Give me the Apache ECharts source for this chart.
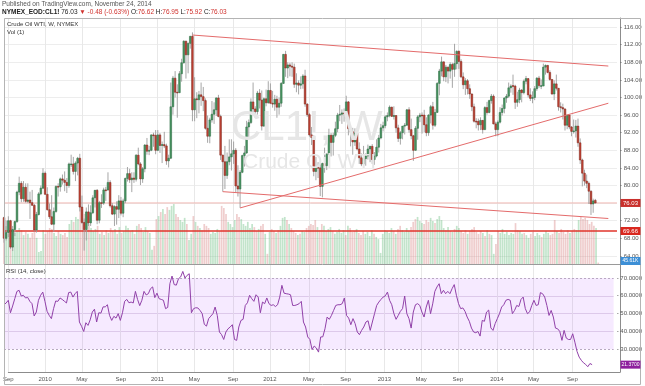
<!DOCTYPE html>
<html><head><meta charset="utf-8">
<script src="https://cdn.jsdelivr.net/npm/echarts@6/dist/echarts.min.js"></script>
<style>html,body{margin:0;padding:0;background:#fff;}#c{width:645px;height:386px;}</style>
</head><body><div id="c"></div>
<script>
// ---------- data (weekly, first week starts 2009-08-31) ----------
const startWeek = '2009-08-31';
const padWeeks = 10;
const opens = [
72.7,68.0,69.3,72.0,66.0,70.0,71.8,78.5,80.5,77.0,
79.6,76.4,76.7,76.1,75.5,69.9,73.4,78.1,79.4,82.8,
78.0,74.5,72.9,71.2,74.1,79.8,79.7,81.5,81.2,80.7,
80.0,84.8,84.9,83.2,85.1,86.2,75.1,71.6,70.0,74.0,
71.5,73.8,77.2,78.9,72.1,76.1,76.0,79.0,79.0,80.7,
75.4,73.5,75.2,74.6,76.5,73.7,76.5,81.6,82.7,81.3,
81.7,81.4,86.9,84.9,81.5,83.8,89.2,87.8,88.0,91.5,
91.4,88.0,91.5,89.1,89.3,89.0,85.6,86.2,97.9,104.4,
101.2,101.1,105.4,107.9,112.8,109.7,112.3,113.9,97.2,99.7,
99.5,100.6,100.2,99.3,93.0,91.2,94.9,96.2,97.2,99.9,
95.7,86.9,85.4,82.3,85.4,86.5,87.2,88.0,79.9,79.2,
83.0,86.8,87.4,93.3,94.3,99.0,97.4,96.8,101.0,99.4,
93.5,99.7,98.8,101.6,98.7,98.5,99.6,97.8,98.7,103.2,
109.8,106.7,107.4,107.1,106.9,103.0,103.3,102.8,103.1,104.9,
98.5,96.1,91.5,90.9,83.2,84.1,84.0,79.8,85.0,84.5,
87.1,91.4,89.8,91.4,92.9,96.0,96.2,96.5,96.4,99.0,
92.9,92.2,89.9,91.9,88.3,86.3,84.9,86.1,86.7,88.3,
88.9,85.9,86.7,88.7,90.8,93.1,93.6,95.6,95.9,97.8,
95.7,95.9,93.1,90.7,92.0,93.5,93.7,97.2,92.7,91.3,
88.0,93.0,95.6,96.0,96.0,93.8,92.0,96.0,97.9,93.7,
96.6,103.2,106.0,108.1,104.7,106.9,106.0,107.5,106.4,107.7,
110.5,108.2,104.7,102.9,103.8,102.0,100.8,97.9,94.6,94.6,
93.8,94.8,92.7,97.7,96.6,99.3,100.3,94.0,92.7,94.4,
96.6,97.5,99.9,100.3,102.2,102.7,102.6,98.9,99.5,101.7,
101.1,103.7,104.3,100.6,99.8,100.0,102.0,104.4,102.7,102.6,
106.9,107.3,105.7,104.1,100.8,103.1,102.1,97.9,97.7,97.4,
93.7,96.0,93.3,92.3,92.4,93.5,89.7,85.8,82.8,81.0,
80.5,78.7,75.8,76.62];
const highs = [
72.9,72.0,73.0,72.2,70.8,72.0,78.8,82.0,81.0,81.0,
80.5,80.5,78.6,79.0,75.8,74.0,78.5,80.0,83.9,83.2,
79.6,75.9,77.8,75.0,80.0,80.5,81.8,82.5,83.2,81.7,
85.2,87.0,86.5,85.5,86.5,87.2,77.7,72.5,75.0,75.7,
75.5,77.8,79.0,79.2,76.5,78.0,79.5,79.7,83.0,81.2,
76.0,75.5,76.4,77.8,77.4,77.0,81.8,84.2,83.8,83.0,
83.0,87.1,88.6,85.3,84.2,89.4,90.8,89.0,91.6,92.0,
92.6,92.6,91.9,90.0,92.2,89.5,87.0,103.4,104.9,106.0,
103.0,106.0,108.8,113.0,112.9,112.5,114.0,114.8,104.6,101.2,
101.5,103.4,102.4,99.8,95.9,95.4,99.2,98.9,100.0,100.6,
96.1,87.0,89.0,87.5,90.5,90.5,90.0,88.5,84.6,83.5,
87.0,89.0,94.7,95.0,99.8,103.4,98.0,101.5,101.9,101.6,
100.0,101.8,103.7,103.2,101.5,100.6,100.4,100.0,103.5,109.9,
110.6,108.0,107.9,108.0,107.7,105.5,103.9,104.8,105.3,106.3,
98.7,96.5,93.3,91.4,86.5,85.3,85.2,85.2,88.6,87.4,
92.9,91.9,92.0,94.5,96.5,98.3,97.3,97.5,100.4,99.2,
93.4,93.1,93.0,93.0,89.8,87.3,89.0,87.3,89.3,89.0,
89.4,87.6,90.5,91.5,94.0,94.5,96.0,96.6,98.2,97.9,
98.0,96.0,93.8,92.4,93.5,94.2,97.4,97.8,95.2,91.5,
93.5,96.0,96.5,96.6,97.2,95.5,96.2,98.3,99.0,97.4,
103.5,106.5,109.3,108.2,107.4,107.0,108.0,107.9,112.2,110.7,
110.7,108.7,105.7,104.4,104.2,103.0,100.9,98.6,95.3,95.2,
95.5,94.9,98.0,99.0,99.5,100.8,100.7,94.5,94.8,97.8,
98.4,100.0,100.8,103.4,103.0,105.2,102.9,101.3,102.2,101.9,
104.1,104.9,104.4,102.1,101.4,102.6,104.6,104.9,104.1,107.7,
107.5,107.4,106.2,104.2,103.9,105.2,102.1,98.9,98.6,97.5,
96.0,96.1,93.5,95.0,94.9,95.2,90.7,86.1,83.6,82.5,
80.9,78.9,77.0,76.95];
const lows = [
67.0,67.5,68.3,65.6,65.1,68.5,71.5,77.8,76.2,76.3,
76.1,76.0,72.4,75.4,69.5,69.3,73.2,77.8,79.2,77.9,
74.3,72.4,71.0,69.5,73.8,77.5,78.6,80.2,78.7,78.3,
79.5,84.2,82.5,81.0,82.3,74.1,71.3,65.2,67.5,70.8,
70.8,73.5,75.0,71.2,71.4,74.9,75.6,76.5,78.8,75.0,
73.3,70.8,71.1,72.6,73.2,72.8,76.0,80.9,80.6,78.5,
80.6,80.9,84.6,80.1,80.6,83.0,87.0,86.9,87.8,88.8,
87.1,87.8,87.4,85.1,88.5,84.7,84.1,86.0,96.1,100.0,
95.4,101.0,103.6,107.7,104.3,105.5,111.1,94.6,94.6,95.3,
96.4,98.1,96.9,92.7,89.7,89.6,94.3,94.0,95.8,95.5,
85.8,78.6,79.2,81.5,84.6,83.4,84.9,78.5,77.5,74.9,
82.8,84.3,87.2,90.6,94.0,96.6,95.3,96.1,97.5,92.5,
93.3,98.0,98.6,98.5,97.7,97.0,95.4,96.1,97.9,103.1,
104.7,104.4,104.8,104.7,102.2,101.2,100.7,101.9,102.0,97.9,
95.6,91.1,89.2,82.1,81.2,81.7,77.6,77.3,82.9,83.5,
87.0,86.6,86.8,91.0,92.1,94.6,94.0,94.5,95.2,91.4,
88.9,87.0,89.0,88.0,84.9,84.4,84.1,84.5,85.9,85.3,
84.9,84.7,86.4,87.5,90.5,92.3,93.0,94.6,95.5,95.6,
95.0,92.0,89.9,89.3,90.5,91.6,93.6,92.0,90.5,85.6,
87.9,90.4,94.4,91.8,92.1,91.2,91.3,94.1,92.7,93.3,
96.6,100.5,104.8,103.7,103.5,103.2,104.3,102.2,104.7,106.4,
106.5,104.4,101.9,100.6,100.7,99.7,96.9,94.3,93.0,92.5,
92.6,91.8,92.6,96.1,96.4,98.6,93.9,91.2,91.2,94.1,
95.9,96.4,98.8,99.9,101.1,100.6,97.4,97.9,98.7,98.9,
100.7,103.0,100.0,99.2,98.7,99.4,101.5,102.2,101.9,102.6,
105.2,105.5,103.8,100.6,99.4,101.6,97.0,96.6,95.0,92.5,
92.8,92.8,91.2,91.8,90.9,88.8,84.9,79.8,80.0,79.4,
75.8,73.3,73.8,75.92];
const closes = [
68.0,69.3,72.0,66.0,70.0,71.8,78.5,80.5,77.0,79.6,
76.4,76.7,76.1,75.5,69.9,73.4,78.1,79.4,82.8,78.0,
74.5,72.9,71.2,74.1,79.8,79.7,81.5,81.2,80.7,80.0,
84.9,84.9,83.2,85.1,86.2,75.1,71.6,70.0,74.0,71.5,
73.8,77.2,78.9,72.1,76.1,76.0,79.0,78.9,80.7,75.4,
73.5,75.2,74.6,76.5,73.7,76.5,81.6,82.7,81.3,81.7,
81.4,86.9,84.9,81.5,83.8,89.2,87.8,88.0,91.5,91.4,
88.0,91.5,89.1,89.3,89.0,85.6,86.2,97.9,104.4,101.2,
101.1,105.4,107.9,112.8,109.7,112.3,113.9,97.2,99.7,99.5,
100.6,100.2,99.3,93.0,91.2,94.9,96.2,97.2,99.9,95.7,
86.9,85.4,82.3,85.4,86.5,87.2,88.0,79.9,79.2,83.0,
86.8,87.4,93.3,94.3,99.0,97.4,96.8,101.0,99.4,93.5,
99.7,98.8,101.6,98.7,98.5,99.6,97.8,98.7,103.2,109.8,
106.7,107.4,107.1,106.9,103.0,103.3,102.8,103.1,104.9,98.5,
96.1,91.5,90.9,83.2,84.1,84.0,79.8,85.0,84.5,87.1,
91.4,89.8,91.4,92.9,96.0,96.2,96.5,96.4,99.0,92.9,
92.2,89.9,91.9,88.3,86.3,84.9,86.1,86.7,88.3,88.9,
85.9,86.7,88.7,90.8,93.1,93.6,95.6,95.9,97.8,95.7,
95.9,93.1,90.7,92.0,93.5,93.7,97.2,92.7,91.3,88.0,
93.0,95.6,96.0,95.9,93.8,92.0,96.0,97.9,93.7,96.6,
103.2,106.0,108.1,104.7,106.9,106.0,107.5,106.4,107.7,110.5,
108.2,104.7,102.9,103.8,102.0,100.8,97.9,94.6,94.5,93.8,
94.8,92.7,97.7,96.6,99.3,100.3,94.0,92.7,94.4,96.6,
97.5,99.9,100.3,102.2,102.6,102.6,98.9,99.5,101.7,101.1,
103.7,104.3,100.6,99.8,100.0,102.0,104.4,102.7,102.7,106.9,
107.3,105.7,104.1,100.8,103.1,102.1,97.9,97.7,97.4,93.7,
96.0,93.3,92.3,92.4,93.5,89.7,85.8,82.8,81.0,80.5,
78.7,75.8,76.5,76.03];
const volumes = [
1100,1230,980,1170,1070,1010,1070,1170,1100,940,
1040,980,850,1010,1070,850,390,420,1100,980,
1070,1170,1140,1010,910,1070,980,940,1010,880,
1300,1430,1370,1530,1460,1890,1790,1630,1560,1300,
1170,1070,1140,1240,980,1040,940,1100,1010,1170,
1070,1140,980,1200,1010,1070,1240,1170,1070,1100,
980,1240,1300,1170,1040,1200,1070,1010,460,590,
1460,1560,1690,1790,1630,1850,1760,1890,1950,1630,
1530,1430,1370,1500,1300,780,980,1560,1370,1240,
1170,1100,1300,1240,1170,980,1040,1010,1140,1070,
1890,1820,1630,1370,1300,1200,1430,1630,1530,1460,
1300,1240,1370,1170,1300,1200,1070,1140,1240,1300,
980,330,1040,1140,1070,1010,1100,1240,1500,1530,
1430,1300,1170,1070,1010,940,980,1070,1040,1170,
1240,1300,1270,1430,1200,1100,1300,1240,1070,1140,
1200,1070,980,1040,1140,1010,1100,940,1240,1170,
1040,1070,1140,1010,940,1070,980,1040,910,1100,
980,880,810,360,980,1100,1070,1010,1170,1070,
980,1140,1240,1100,1040,1170,1070,1200,1370,1460,
1530,1400,1330,1300,1430,1370,1500,1400,1330,1460,
1560,1430,1170,1100,1200,1070,1040,1140,1240,1170,
1070,1010,1100,980,1070,1140,1200,1040,980,1070,
1010,910,1100,980,940,330,650,1070,1010,1140,
980,1040,940,1010,980,1330,1100,1070,980,1010,
940,850,980,1040,910,1010,940,880,980,1070,
1010,940,980,1430,1070,1010,1140,1040,980,1100,
1010,1070,1140,1100,1430,1530,1460,1500,1430,1300,
1370,1240,1170,45.61];
const rsiValues = [
55.0,56.0,57.5,50.5,54.3,58.4,62.5,63.1,59.9,60.3,
58.8,59.1,56.9,55.6,48.7,50.9,57.5,60.3,62.1,56.9,
51.3,49.0,47.2,52.8,57.1,56.9,58.8,58.0,57.0,56.0,
61.8,62.1,59.3,61.2,62.5,45.3,42.9,40.0,44.9,43.4,
46.5,50.9,52.5,45.3,50.5,50.3,53.8,53.8,55.0,49.0,
46.2,48.5,47.5,50.0,46.2,50.5,56.9,58.0,56.1,56.5,
56.0,62.5,58.0,54.5,57.5,62.5,60.5,61.2,64.0,65.0,
59.0,61.5,58.4,58.0,57.5,52.8,53.5,66.8,71.1,66.3,
66.0,69.6,70.6,73.7,70.0,71.5,72.4,50.5,52.8,53.3,
53.2,51.8,50.0,44.0,43.0,47.2,48.6,50.0,53.7,49.0,
39.7,38.2,35.5,39.7,41.5,42.5,43.8,35.5,35.0,42.5,
46.2,46.8,54.6,56.1,60.3,58.4,56.9,60.6,59.3,50.5,
56.5,55.6,58.8,55.6,54.6,55.0,54.0,55.0,59.3,65.9,
61.5,61.2,61.0,60.6,54.6,54.6,55.0,55.6,56.9,45.3,
42.5,36.9,35.5,29.9,31.8,30.7,28.4,36.9,37.0,41.5,
48.1,46.8,49.0,51.8,54.6,55.0,55.0,55.6,58.8,49.0,
47.5,43.8,47.2,44.4,39.7,38.2,40.6,42.5,45.3,46.0,
40.6,45.3,50.0,54.6,56.5,58.0,59.3,60.0,62.1,57.5,
55.0,50.0,46.8,49.0,51.3,52.8,59.9,50.0,47.2,41.9,
50.9,55.0,55.6,54.6,50.9,48.1,53.7,57.5,50.0,55.5,
62.5,65.0,66.8,61.2,63.1,61.2,62.5,61.2,64.0,66.3,
60.3,55.6,52.8,53.2,51.3,48.1,45.7,41.9,39.7,39.3,
40.0,37.4,46.2,45.7,50.9,52.0,42.0,40.6,44.4,47.2,
50.0,53.7,55.0,57.5,58.0,57.5,50.0,51.8,54.6,54.0,
58.0,59.3,52.8,50.0,51.0,54.6,57.5,54.6,55.0,61.8,
61.2,59.3,54.6,49.0,51.8,48.1,41.9,41.5,40.0,35.0,
40.6,36.3,35.5,35.5,38.7,34.0,28.8,25.6,23.8,22.4,
21.5,20.2,22.0,21.37];
const priceTicks = [64,68,72,76,80,84,88,92,96,100,104,108,112,116];
const rsiTicks = [30,40,50,60,70];
// drawn trend lines: [week index, price]
const trendTop  = [[87,114.2],[279,107.15]];
const trendRise = [[109,74.9],[279,98.7]];
const trendLow  = [[101,78.6],[279,72.5]];
const lastPrice = 76.03;
const levelLine = 69.66;
const lastVolume = 45.61;
const headerPublished = 'Published on TradingView.com, November 24, 2014';
const symbolText = 'NYMEX_EOD:CL1!';
const quote = {last:'76.03', chg:'-0.48 (-0.63%)', o:'76.62', h:'76.95', l:'75.92', c:'76.03'};

// ---------- build ----------
const FONT = '"Liberation Sans", Arial, sans-serif';
const nWeeks = closes.length;
const DAY = 864e5;
const d0 = new Date(startWeek + 'T00:00:00Z');
const cats = [];
for (let k = 0; k < nWeeks + padWeeks; k++) cats.push(new Date(d0.getTime() + k*7*DAY).toISOString().slice(0,10));
const MN = ['Jan','Feb','Mar','Apr','May','Jun','Jul','Aug','Sep','Oct','Nov','Dec'];
function labelFor(k){
  if (k >= nWeeks) return null;
  const d = new Date(d0.getTime() + k*7*DAY), e = new Date(d.getTime() + 6*DAY);
  let m = null;
  if (d.getUTCDate() === 1) m = d.getUTCMonth();
  else if (e.getUTCMonth() !== d.getUTCMonth()) m = e.getUTCMonth();
  if (m === null) return null;
  if (m === 0) return String(e.getUTCFullYear());
  if (m === 4 || m === 8) return MN[m];
  return null;
}
const showTick = (idx) => labelFor(idx) !== null;

const candleData = closes.map((c,k) => [k, opens[k], c, lows[k], highs[k]]);
const volData = volumes.map((v,k) => ({value: v, itemStyle: {color: closes[k] >= opens[k] ? 'rgba(110,190,130,0.42)' : 'rgba(215,130,130,0.40)'}}));

const priceSplitColors = [];
for (let v = 60; v <= 120; v += 4) priceSplitColors.push(priceTicks.includes(v) ? '#ededed' : 'rgba(0,0,0,0)');
const rsiSplitColors = [];
for (let v = 10; v <= 80; v += 10) rsiSplitColors.push((v >= 40 && v <= 60) ? '#e4dbe8' : 'rgba(0,0,0,0)');

const L = 4, R = 25;
const hiddenX = (gi) => ({type:'category', gridIndex: gi, data: cats, boundaryGap: false, show: false});

function txt(id, x, y, text, font, fill, z){
  return {id: id, type:'text', x: x, y: y, z: z || 60, style:{text: text, font: font, fill: fill}};
}
const baseGraphics = [
  txt('pub', 2, 1, headerPublished, '6.5px ' + FONT, '#555555'),
  {id:'quote', type:'text', x: 2, y: 9, z: 60, style:{
    text: '{b|' + symbolText + '} {n|' + quote.last + '} {r|\u25BC ' + quote.chg + '} {n|O:}{r|' + quote.o + '} {n|H:}{r|' + quote.h + '} {n|L:}{r|' + quote.l + '} {n|C:}{r|' + quote.c + '}',
    font: '6.5px ' + FONT, fill: '#222222',
    rich: {b:{font:'bold 6.5px ' + FONT, fill:'#222222'}, n:{font:'6.5px ' + FONT, fill:'#222222'}, r:{font:'6.5px ' + FONT, fill:'#d0312d'}}}},
  {id:'frame', type:'rect', z: 50, shape:{x: 4.5, y: 18.5, width: 636, height: 366}, style:{fill:'none', stroke:'#b4b4b4', lineWidth: 1}},
  {id:'sep', type:'line', z: 50, shape:{x1: 4.5, y1: 264.5, x2: 640.5, y2: 264.5}, style:{stroke:'#9a9a9a', lineWidth: 1}},
  txt('wm1', 231, 107, 'CL1!, W', '42px ' + FONT, '#e6e6e6', 0),
  txt('wm2', 243, 152, 'Crude Oil WTI', '21px ' + FONT, '#e6e6e6', 0),
  txt('t_title', 7, 21, 'Crude Oil WTI, W, NYMEX', '6px ' + FONT, '#333333'),
  txt('t_vol', 7, 29, 'Vol (1)', '6px ' + FONT, '#333333'),
  txt('t_rsi', 6, 268, 'RSI (14, close)', '6px ' + FONT, '#333333')
];

const option = {
  animation: false,
  backgroundColor: '#ffffff',
  textStyle: {fontFamily: FONT},
  grid: [
    {left: L, right: R, top: 9.5, height: 264},     // price (60..120)
    {left: L, right: R, top: 18, height: 246},      // volume
    {left: L, right: R, top: 260.2, height: 124.7}, // rsi (10..80)
    {left: L, right: R, top: 18, height: 354}       // frame / time axis
  ],
  xAxis: [
    hiddenX(0), hiddenX(1), hiddenX(2),
    {type:'category', gridIndex: 3, data: cats, boundaryGap: false, position:'bottom',
     axisLine: {lineStyle: {color:'#8c8c8c', width: 1}},
     axisTick: {show: false},
     axisLabel: {interval: showTick, formatter: (v, idx) => labelFor(idx) || '', fontSize: 6, color: '#555', margin: 4, fontFamily: FONT},
     splitLine: {show: true, interval: showTick, lineStyle: {color: '#e8e8e8', width: 1}}}
  ],
  yAxis: [
    {type:'value', gridIndex: 0, min: 60, max: 120, interval: 4, position: 'right',
     axisLine: {show: false}, axisTick: {show: false},
     axisLabel: {fontSize: 6, color: '#555', margin: 3, fontFamily: FONT, formatter: v => priceTicks.includes(v) ? '- ' + v.toFixed(2) : ''},
     splitLine: {show: true, lineStyle: {color: priceSplitColors, width: 1}}},
    {type:'value', gridIndex: 1, min: 0, max: 8000, show: false, splitLine: {show: false}},
    {type:'value', gridIndex: 2, min: 10, max: 80, interval: 10, position: 'right',
     axisLine: {show: false}, axisTick: {show: false},
     axisLabel: {fontSize: 6, color: '#555', margin: 3, fontFamily: FONT, formatter: v => rsiTicks.includes(v) ? '- ' + v.toFixed(4) : ''},
     splitLine: {show: true, lineStyle: {color: rsiSplitColors, width: 1}}},
    {type:'value', gridIndex: 3, min: 0, max: 1, position: 'right',
     axisLine: {show: true, lineStyle: {color: '#8c8c8c'}}, axisTick: {show: false}, axisLabel: {show: false}, splitLine: {show: false}}
  ],
  series: [
    {type:'bar', name:'vol', xAxisIndex: 1, yAxisIndex: 1, data: volData, barWidth: 1.7, z: 1, silent: true},
    {type:'line', name:'last', xAxisIndex: 0, yAxisIndex: 0, data: [[0, lastPrice],[nWeeks + padWeeks - 1, lastPrice]], symbol:'none', lineStyle:{color:'#f2b9b4', width:1}, z: 2, silent: true},
    {type:'line', name:'level', xAxisIndex: 0, yAxisIndex: 0, data: [[0, levelLine],[nWeeks + padWeeks - 1, levelLine]], symbol:'none', lineStyle:{color:'#e0352b', width:1.6}, z: 3, silent: true},
    {type:'custom', name:'candles', xAxisIndex: 0, yAxisIndex: 0, data: candleData, z: 4, silent: true,
     encode: {x: 0, y: [1,2,3,4]},
     renderItem: function(params, api){
       const x = api.value(0), o = api.value(1), c = api.value(2), lo = api.value(3), hi = api.value(4);
       const po = api.coord([x, o]), pc = api.coord([x, c]), pl = api.coord([x, lo]), ph = api.coord([x, hi]);
       const up = c >= o;
       const bw = 1.7;
       const top = Math.min(po[1], pc[1]);
       const bh = Math.max(Math.abs(po[1] - pc[1]), 0.8);
       return {type:'group', children:[
         {type:'line', shape:{x1: po[0], y1: ph[1], x2: po[0], y2: pl[1]}, style:{stroke:'#9c9c9c', lineWidth: 0.9}},
         {type:'rect', shape:{x: po[0] - bw/2, y: top, width: bw, height: bh},
          style:{fill: up ? '#4a9663' : '#c24336', stroke: up ? '#2b6a40' : '#7c2419', lineWidth: 0.5}}
       ]};
     }},
    {type:'line', name:'t1', xAxisIndex: 0, yAxisIndex: 0, data: trendTop, symbol:'none', lineStyle:{color:'#e46b6b', width:1}, z: 5, silent: true},
    {type:'line', name:'t2', xAxisIndex: 0, yAxisIndex: 0, data: trendRise, symbol:'none', lineStyle:{color:'#e46b6b', width:1}, z: 5, silent: true},
    {type:'line', name:'t3', xAxisIndex: 0, yAxisIndex: 0, data: trendLow, symbol:'none', lineStyle:{color:'#e46b6b', width:1}, z: 5, silent: true},
    {type:'line', name:'rsi', xAxisIndex: 2, yAxisIndex: 2, data: rsiValues, symbol:'none', lineStyle:{color:'#9141a9', width:1}, z: 5, silent: true,
     markArea: {silent: true, itemStyle: {color: 'rgba(153,21,255,0.09)'}, data: [[{yAxis: 30},{yAxis: 70}]]},
     markLine: {silent: true, symbol: 'none', label: {show: false}, lineStyle: {color: '#b9a9c2', width: 1, type: [2,2]}, data: [{yAxis: 70},{yAxis: 30}]}}
  ],
  graphic: baseGraphics
};

const chart = echarts.init(document.getElementById('c'), null, {renderer:'canvas'});
chart.setOption(option);

// value tags on the scales, positioned through the axes
const yLast = chart.convertToPixel({yAxisIndex: 0}, lastPrice);
const yLevel = chart.convertToPixel({yAxisIndex: 0}, levelLine);
const yVol = chart.convertToPixel({yAxisIndex: 1}, lastVolume);
const yRsi = chart.convertToPixel({yAxisIndex: 2}, rsiValues[rsiValues.length - 1]);
function tag(id, y, text, bg, fs){
  return [
    {id: id + 'r', type:'rect', z: 80, shape:{x: 620.5, y: y - 4, width: 20, height: 8}, style:{fill: bg}},
    {id: id + 't', type:'text', z: 81, x: 630.5, y: y, style:{text: text, font: (fs || 6) + 'px ' + FONT, fill:'#ffffff', align:'center', verticalAlign:'middle'}}
  ];
}
option.graphic = baseGraphics.concat(
  tag('tagLast', yLast, lastPrice.toFixed(2), '#c9302c'),
  tag('tagLevel', yLevel, levelLine.toFixed(2), '#d9281f'),
  tag('tagVol', Math.min(yVol, 261), lastVolume.toFixed(2) + 'K', '#3d8fd6', 5),
  tag('tagRsi', yRsi, rsiValues[rsiValues.length - 1].toFixed(4), '#8e1f9e', 5)
);
chart.setOption(option, true);
</script>
</body></html>
